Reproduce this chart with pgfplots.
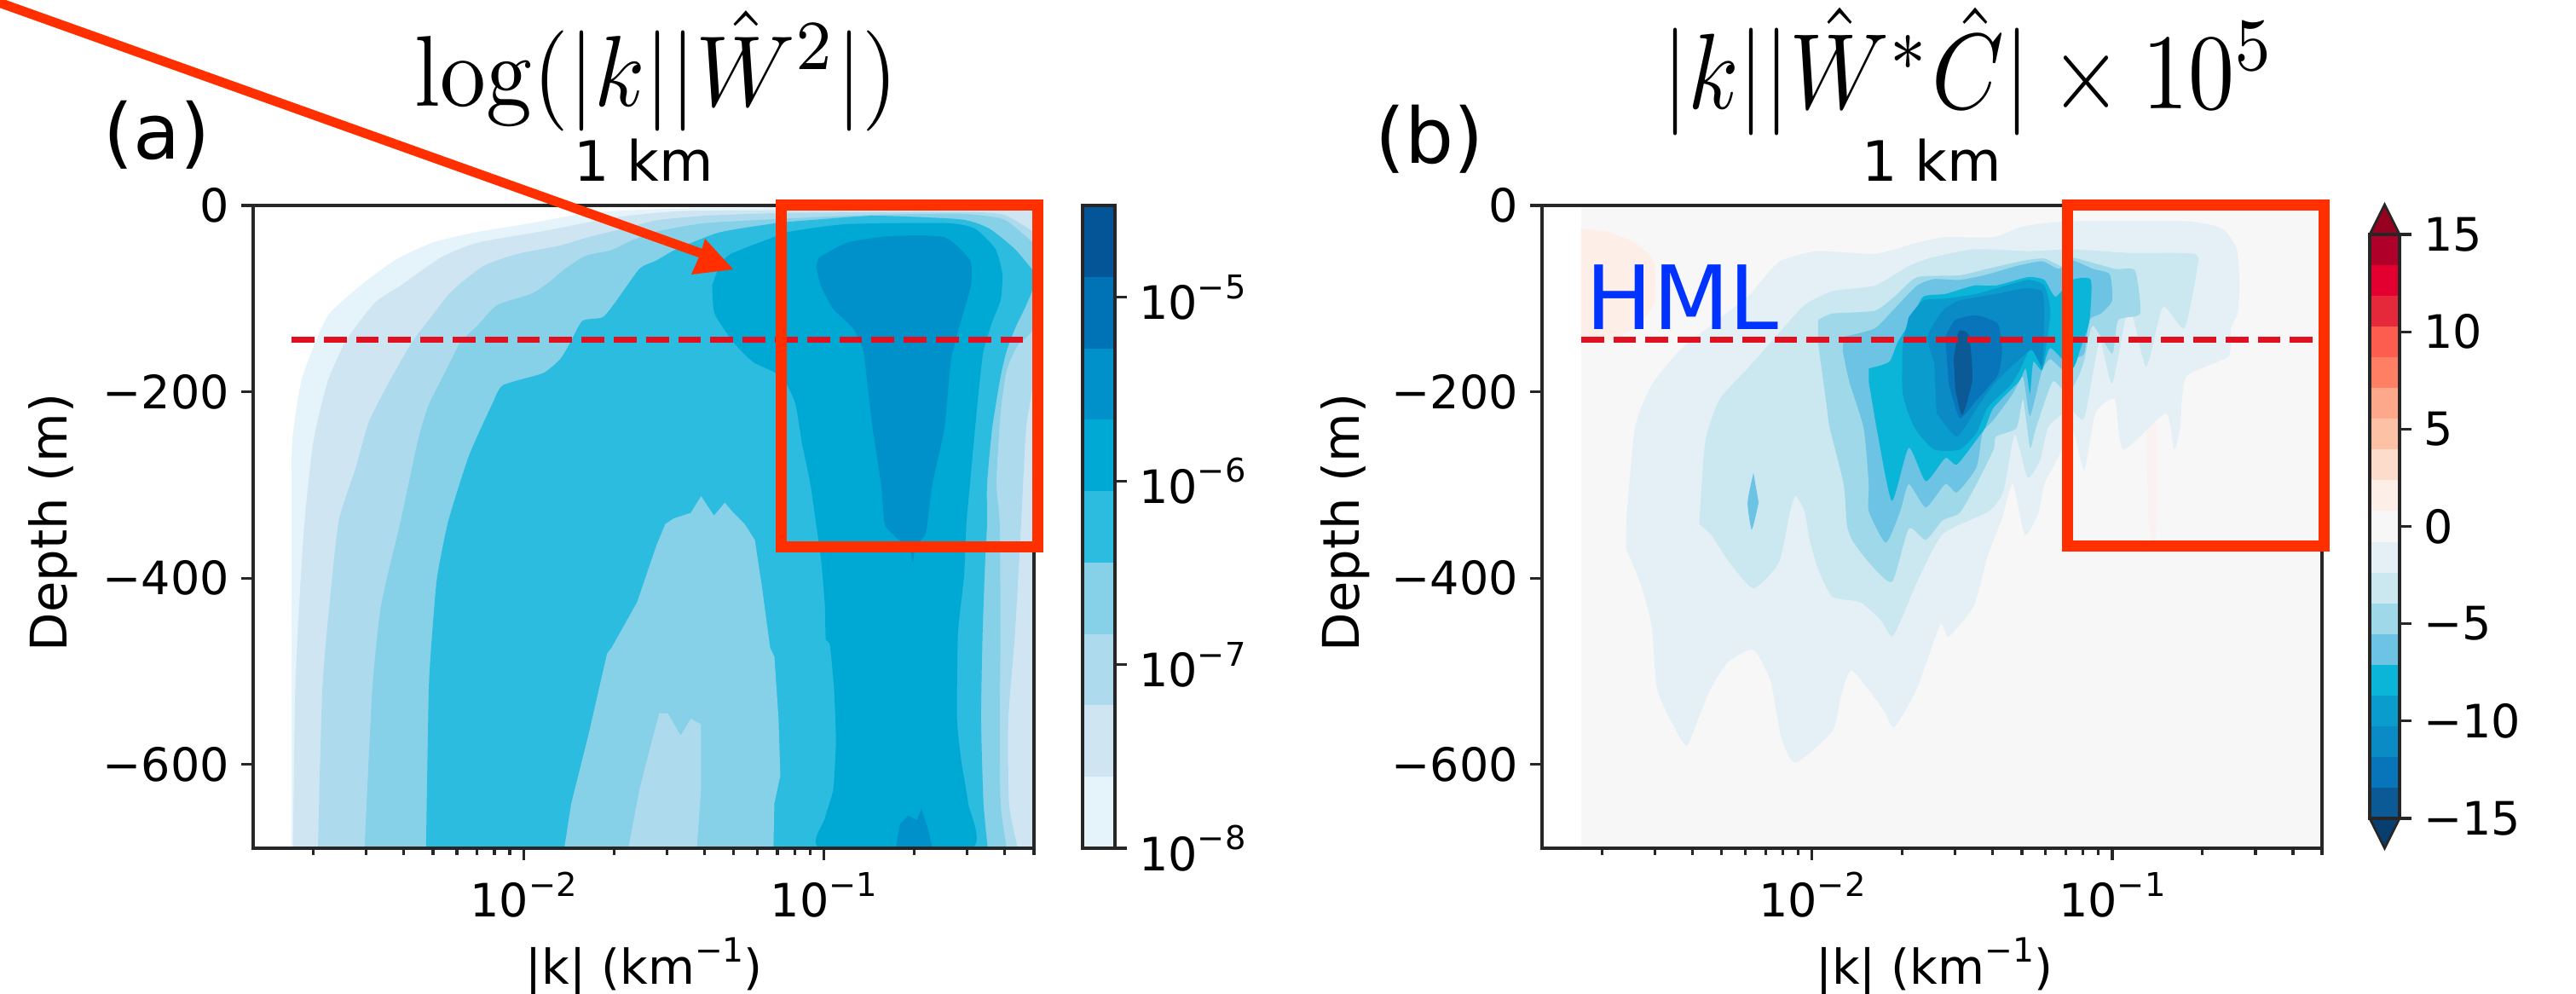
\documentclass[border=0pt]{standalone}
\usepackage[no-math]{fontspec}
\setmainfont{DejaVu Sans}
\usepackage{pgfplots}
\pgfplotsset{compat=1.18}
\newcommand\tk{\fontsize{13.5}{16}\selectfont}
\newcommand\tpow[1]{10\raisebox{.45em}{\fontsize{9.6}{10}\selectfont −#1}}
\definecolor{aa}{HTML}{E5F3FA}\definecolor{ab}{HTML}{CFE6F2}\definecolor{ac}{HTML}{AEDAEE}
\definecolor{ad}{HTML}{86D0E8}\definecolor{ae}{HTML}{2BBCDF}\definecolor{af}{HTML}{00A9D4}
\definecolor{ag}{HTML}{0090CA}\definecolor{ah}{HTML}{0073B7}\definecolor{ai}{HTML}{035597}
\definecolor{sa}{HTML}{0B5A96}\definecolor{sb}{HTML}{0874B9}\definecolor{sc}{HTML}{0A8BC6}
\definecolor{sd}{HTML}{0A9CCC}\definecolor{se}{HTML}{0BB5D8}\definecolor{sf}{HTML}{6CC3E3}
\definecolor{sg}{HTML}{9FD9E9}\definecolor{sh}{HTML}{CBE8F1}\definecolor{si}{HTML}{E4F0F6}
\definecolor{sj}{HTML}{F7F7F7}\definecolor{sk}{HTML}{FDEEE8}\definecolor{sl}{HTML}{FEDCCB}
\definecolor{sm}{HTML}{FDC2A6}\definecolor{sn}{HTML}{FEA88B}\definecolor{so}{HTML}{FF7F64}
\definecolor{sp}{HTML}{FC5D4E}\definecolor{sq}{HTML}{E5283A}\definecolor{sr}{HTML}{E30030}
\definecolor{ss}{HTML}{AE0028}\definecolor{st}{HTML}{98001F}\definecolor{su}{HTML}{083F70}
\definecolor{redbox}{HTML}{FF2F00}\definecolor{hml}{HTML}{E01020}\definecolor{hmlt}{HTML}{0033FF}
\definecolor{faint}{HTML}{FAF2F0}
\pgfplotsset{
  depthpanel/.style={
    scale only axis, width=229pt, height=188.5pt,
    xmin=0.00126, xmax=0.5, ymin=-690, ymax=0,
    axis line style={line width=0.9pt,color=black!85},
    tick style={line width=0.8pt,color=black!85},
    major tick length=3.5pt, minor tick length=2pt, tick align=outside,
    xtick pos=bottom, ytick pos=left,
    xtick={0.01,0.1}, xticklabels={\tpow{2},\tpow{1}},
    minor xtick={0.002,0.003,0.004,0.005,0.006,0.007,0.008,0.009,0.02,0.03,0.04,0.05,0.06,0.07,0.08,0.09,0.2,0.3,0.4,0.5},
    ytick={-600,-400,-200,0}, yticklabels={−600,−400,−200,0},
    tick label style={font=\tk},
    title style={font=\fontsize{16.3}{18}\selectfont, yshift=-2.5pt},
    axis on top,
    every axis plot/.append style={smooth,tension=.35},
  },
  cbarpanel/.style={
    scale only axis, xmin=0, xmax=1, xtick=\empty, axis on top,
    ytick pos=right, yticklabel pos=right,
    axis line style={line width=0.9pt,color=black!85},
    tick style={line width=0.8pt,color=black!85},
    major tick length=3.5pt, minor tick length=0pt, tick align=outside,
    tick label style={font=\tk},
  },
}
\begin{document}
\begin{tikzpicture}
\path[use as bounding box] (0,0) rectangle (755.5pt,291.5pt);
% ---------- panel (a)
\begin{axis}[xmode=log, depthpanel, at={(74.25pt,42.75pt)}, anchor=south west, title={1 km},
  xlabel={|k| (km\raisebox{.45em}{\fontsize{9.8}{10}\selectfont −1})}, ylabel={Depth (m)},
  xlabel style={font=\fontsize{14.1}{16}\selectfont,at={(axis description cs:.501,-.184)},anchor=center},
  ylabel style={font=\fontsize{14.8}{16}\selectfont,at={(axis description cs:-.256,.507)},anchor=center}]
\addplot[fill=aa,draw=none] coordinates {(.00169,-690)(.00169,-342)(.0017,-253)(.00182,-189)(.00203,-147)(.00226,-116)(.00287,-86)(.00372,-59)(.00497,-40)(.00689,-29)(.0106,-19)(.0164,-8)(.0277,-4)(.0649,-2)(.5,-2)(.5,-690)} -- cycle;
\addplot[fill=ab,draw=none] coordinates {(.00171,-690)(.00174,-520)(.0018,-420)(.00187,-338)(.002,-253)(.00223,-189)(.00258,-144)(.00321,-104)(.0039,-86)(.0053,-56)(.00703,-40)(.0119,-27)(.02,-13)(.0337,-6)(.0901,-5)(.5,-4)(.5,-690)} -- cycle;
\addplot[fill=ac,draw=none] coordinates {(.00207,-690)(.00214,-520)(.00226,-429)(.00243,-338)(.00275,-284)(.00306,-232)(.00358,-189)(.00425,-147)(.00484,-123)(.00577,-92)(.00735,-65)(.00955,-52)(.01325,-43)(.01644,-34)(.0214,-25)(.0277,-16)(.0403,-11)(.0755,-8)(.2864,-7)(.397,-10)(.4966,-28)(.5,-28)(.5,-178)(.471,-239)(.453,-342)(.4325,-459)(.411,-551)(.413,-642)(.4416,-690)} -- cycle;
\addplot[fill=ad,draw=none] coordinates {(.00296,-690)(.00314,-520)(.00336,-429)(.0039,-339)(.00445,-253)(.00484,-214)(.00551,-178)(.00617,-147)(.00703,-129)(.00817,-107)(.0106,-95)(.0121,-83)(.01377,-68)(.0161,-54)(.0196,-48)(.0228,-38)(.0277,-28)(.0403,-19)(.0755,-14)(.149,-10)(.2864,-9)(.397,-15)(.4966,-40)(.5,-40)(.5,-129)(.4416,-150)(.4055,-177)(.387,-223)(.375,-299)(.3846,-342)(.387,-459)(.3846,-551)(.387,-642)(.4055,-690)} -- cycle;
\addplot[fill=ae,draw=none] coordinates {(.00474,-690)(.00484,-520)(.00497,-459)(.00516,-399)(.00562,-339)(.00658,-269)(.00785,-214)(.00855,-193)(.01162,-180)(.01325,-165)(.01416,-150)(.0157,-124)(.01837,-120)(.02042,-102)(.02433,-68)(.0277,-59)(.03227,-47)(.04477,-29)(.0693,-19)(.0962,-15)(.149,-11)(.2864,-15)(.3556,-25)(.4325,-47)(.4966,-70)(.5,-70)(.5,-86)(.471,-107)(.4325,-132)(.4055,-156)(.387,-184)(.363,-239)(.349,-299)(.349,-342)(.3444,-377)(.3373,-459)(.3334,-551)(.3396,-642)(.351,-690)} -- cycle;
\addplot[fill=ad,draw=none,sharp plot] coordinates {(.01368,-690)(.01442,-642)(.01644,-569)(.01898,-481)(.01963,-475)(.02388,-426)(.0277,-365)(.02965,-342)(.03162,-336)(.03606,-330)(.039,-312)(.04305,-333)(.04677,-319)(.05,-330)(.05445,-342)(.05888,-359)(.0621,-408)(.06622,-475)(.06839,-484)(.07063,-551)(.07161,-612)(.06839,-642)(.06792,-690)} -- cycle;
\addplot[fill=ac,draw=none,sharp plot] coordinates {(.02234,-690)(.02433,-627)(.0263,-584)(.02831,-545)(.0302,-545)(.03334,-569)(.03606,-551)(.039,-557)(.039,-627)(.03776,-690)} -- cycle;
\addplot[fill=af,draw=none] coordinates {(.04246,-86)(.04325,-116)(.05,-147)(.05808,-168)(.0693,-180)(.0755,-193)(.0805,-214)(.0843,-253)(.0901,-299)(.0942,-342)(.098,-383)(.1007,-429)(.1014,-465)(.1047,-472)(.1081,-520)(.1096,-575)(.1074,-627)(.1007,-658)(.098,-690)(.3083,-690)(.302,-642)(.2864,-596)(.2773,-551)(.2793,-459)(.2924,-399)(.2979,-342)(.3062,-299)(.3184,-239)(.3289,-193)(.3396,-156)(.363,-125)(.387,-102)(.3926,-74)(.3724,-47)(.3184,-25)(.2564,-19)(.1194,-20)(.0774,-28)(.0693,-33)(.049,-52)(.04477,-65)} -- cycle;
\addplot[fill=ag,draw=none] coordinates {(.0942,-65)(.0975,-86)(.1074,-111)(.125,-132)(.1352,-156)(.1396,-193)(.1452,-239)(.1549,-299)(.1592,-342)(.1698,-353)(.1936,-371)(.1972,-383)(.2014,-368)(.2178,-353)(.2208,-342)(.2296,-299)(.2518,-239)(.2649,-166)(.2864,-123)(.3083,-86)(.3062,-59)(.2518,-34)(.1656,-33)(.1194,-40)(.0962,-56)} -- cycle;
\addplot[fill=ag,draw=none,sharp plot] coordinates {(.1734,-690)(.1791,-664)(.191,-655)(.2042,-660)(.2109,-648)(.2223,-670)(.2296,-690)} -- cycle;
\addplot[hml,sharp plot,line width=1.8pt,dash pattern=on 6.7pt off 2.75pt] coordinates {(.00169,-144)(.5,-144)};
\end{axis}
% ---------- colour bar (a)
\begin{axis}[ymode=log, cbarpanel, at={(317.5pt,42.75pt)}, anchor=south west, width=9.5pt, height=188.5pt,
  ymin=1e-8, ymax=3.162e-5, ytick={1e-8,1e-7,1e-6,1e-5},
  yticklabels={\tpow{8},\tpow{7},\tpow{6},\tpow{5}}]
\addplot[fill=aa,draw=none] coordinates {(0,1e-8)(1,1e-8)(1,2.448e-8)(0,2.448e-8)} -- cycle;
\addplot[fill=ab,draw=none] coordinates {(0,2.448e-8)(1,2.448e-8)(1,5.995e-8)(0,5.995e-8)} -- cycle;
\addplot[fill=ac,draw=none] coordinates {(0,5.995e-8)(1,5.995e-8)(1,1.468e-7)(0,1.468e-7)} -- cycle;
\addplot[fill=ad,draw=none] coordinates {(0,1.468e-7)(1,1.468e-7)(1,3.594e-7)(0,3.594e-7)} -- cycle;
\addplot[fill=ae,draw=none] coordinates {(0,3.594e-7)(1,3.594e-7)(1,8.80e-7)(0,8.80e-7)} -- cycle;
\addplot[fill=af,draw=none] coordinates {(0,8.80e-7)(1,8.80e-7)(1,2.154e-6)(0,2.154e-6)} -- cycle;
\addplot[fill=ag,draw=none] coordinates {(0,2.154e-6)(1,2.154e-6)(1,5.275e-6)(0,5.275e-6)} -- cycle;
\addplot[fill=ah,draw=none] coordinates {(0,5.275e-6)(1,5.275e-6)(1,1.292e-5)(0,1.292e-5)} -- cycle;
\addplot[fill=ai,draw=none] coordinates {(0,1.292e-5)(1,1.292e-5)(1,3.162e-5)(0,3.162e-5)} -- cycle;
\end{axis}
% ---------- panel (b)
\begin{axis}[xmode=log, depthpanel, at={(452.25pt,42.75pt)}, anchor=south west, width=228.75pt, title={1 km},
  xlabel={|k| (km\raisebox{.45em}{\fontsize{9.8}{10}\selectfont −1})}, ylabel={Depth (m)},
  xlabel style={font=\fontsize{14.1}{16}\selectfont,at={(axis description cs:.503,-.184)},anchor=center},
  ylabel style={font=\fontsize{14.8}{16}\selectfont,at={(axis description cs:-.252,.507)},anchor=center}]
\addplot[fill=sj,draw=none,sharp plot] coordinates {(.0017,-690)(.0017,0)(.5,0)(.5,-690)} -- cycle;
\addplot[fill=sk,draw=none] coordinates {(.0017,-25)(.00206,-28)(.00257,-40)(.00298,-61)(.00298,-102)(.00274,-123)(.0022,-144)(.0017,-145)} -- cycle;
\addplot[fill=faint,draw=none] coordinates {(.1297,-237)(.1413,-237)(.1413,-330)(.1366,-370)(.132,-330)} -- cycle;
\addplot[fill=si,draw=none] coordinates {(.0024,-342)(.00257,-239)(.00292,-193)(.0037,-153)(.0061,-98)(.00681,-80)(.00791,-59)(.01047,-49)(.01618,-52)(.02239,-40)(.0278,-34)(.04027,-34)(.05117,-22)(.07362,-17)(.1762,-17)(.2328,-25)(.26,-47)(.2655,-86)(.2618,-116)(.2483,-132)(.2438,-162)(.1762,-184)(.1683,-239)(.1607,-262)(.1507,-223)(.1089,-262)(.1019,-208)(.0879,-223)(.0807,-284)(.07362,-239)(.06637,-269)(.05943,-299)(.05675,-330)(.05117,-354)(.04667,-299)(.04295,-336)(.03846,-376)(.03467,-429)(.02851,-463)(.02673,-450)(.02239,-518)(.0188,-560)(.01726,-541)(.01358,-499)(.01247,-527)(.01169,-564)(.00883,-598)(.00791,-572)(.00728,-511)(.00638,-477)(.00525,-490)(.00461,-518)(.00421,-548)(.00382,-580)(.0034,-554)(.00304,-518)(.00292,-450)(.00267,-404)(.0024,-368)} -- cycle;
\addplot[fill=sh,draw=none] coordinates {(.00421,-342)(.00441,-253)(.00492,-208)(.0061,-175)(.00757,-141)(.00944,-107)(.01169,-92)(.01618,-86)(.021,-65)(.025,-56)(.03467,-47)(.05321,-49)(.07362,-47)(.1138,-51)(.188,-52)(.1914,-70)(.1738,-132)(.1476,-109)(.1297,-173)(.1138,-109)(.1,-191)(.0908,-146)(.0807,-228)(.07228,-219)(.06138,-237)(.05754,-273)(.05224,-292)(.04732,-246)(.04345,-306)(.0389,-328)(.02723,-353)(.02239,-404)(.02004,-441)(.01845,-463)(.01694,-445)(.01449,-426)(.01169,-420)(.01047,-390)(.00982,-359)(.00944,-328)(.00883,-312)(.00845,-328)(.00776,-383)(.00638,-411)(.00525,-381)(.00461,-353)} -- cycle;
\addplot[fill=sf,draw=none] coordinates {(.00638,-287)(.0061,-319)(.0063,-348)(.00664,-319)} -- cycle;
\addplot[fill=sg,draw=none] coordinates {(.01047,-123)(.01169,-116)(.01618,-113)(.0188,-98)(.02239,-77)(.03105,-75)(.03846,-68)(.05117,-59)(.05943,-57)(.06776,-65)(.07362,-56)(.1019,-68)(.1191,-70)(.1239,-116)(.1047,-123)(.1,-159)(.0861,-129)(.0807,-166)(.0771,-184)(.0708,-203)(.06339,-189)(.05571,-239)(.05321,-260)(.05047,-208)(.04797,-239)(.04102,-248)(.04027,-262)(.03532,-299)(.03105,-330)(.02723,-338)(.02393,-359)(.021,-347)(.01845,-404)(.01545,-383)(.01358,-359)(.01306,-342)(.01274,-299)(.01146,-239)(.01117,-214)(.01047,-147)} -- cycle;
\addplot[fill=sf,draw=none] coordinates {(.01274,-141)(.01618,-132)(.0188,-111)(.02239,-86)(.02553,-79)(.03105,-80)(.03846,-74)(.04797,-65)(.05834,-60)(.06637,-68)(.07362,-59)(.0861,-68)(.0982,-74)(.1,-102)(.0918,-116)(.0839,-123)(.0807,-159)(.07362,-165)(.06902,-177)(.06223,-165)(.05834,-177)(.05321,-226)(.05047,-184)(.04667,-202)(.04027,-230)(.03698,-244)(.03532,-281)(.03041,-308)(.0278,-299)(.02393,-324)(.021,-299)(.01968,-328)(.01762,-362)(.01545,-328)(.01545,-299)(.01486,-239)(.0133,-189)(.01265,-156)} -- cycle;
\addplot[fill=se,draw=none] coordinates {(.01545,-175)(.01807,-168)(.01928,-147)(.02143,-123)(.02344,-98)(.0278,-95)(.03467,-86)(.04102,-86)(.05224,-77)(.05943,-80)(.06471,-98)(.07362,-80)(.0849,-80)(.0839,-125)(.07852,-153)(.07362,-175)(.06223,-153)(.05834,-177)(.05458,-168)(.05321,-202)(.05152,-175)(.04887,-189)(.04027,-217)(.03767,-239)(.03597,-248)(.03041,-278)(.0278,-271)(.02393,-296)(.021,-260)(.01845,-317)(.01652,-244)(.01545,-189)} -- cycle;
\addplot[fill=sd,draw=none] coordinates {(.02004,-147)(.02004,-202)(.02198,-239)(.02553,-262)(.03105,-262)(.03532,-244)(.03846,-217)(.04581,-193)(.04955,-175)(.05458,-147)(.05834,-175)(.06223,-116)(.05943,-86)(.05224,-80)(.04102,-89)(.03532,-95)(.0278,-100)(.02344,-102)(.021,-120)} -- cycle;
\addplot[fill=sc,draw=none] coordinates {(.02553,-168)(.02421,-141)(.02723,-113)(.03105,-102)(.04102,-95)(.05117,-89)(.05834,-92)(.05943,-116)(.05834,-171)(.05395,-155)(.04797,-168)(.04102,-189)(.03597,-214)(.03041,-248)(.026,-223)} -- cycle;
\addplot[fill=sb,draw=none] coordinates {(.0278,-141)(.02999,-123)(.03532,-118)(.04159,-127)(.04295,-155)(.04159,-182)(.03532,-209)(.03105,-228)(.02851,-191)} -- cycle;
\addplot[fill=sa,draw=none] coordinates {(.02965,-165)(.03083,-135)(.03334,-140)(.0342,-187)(.03162,-225)(.02999,-196)} -- cycle;
\addplot[hml,sharp plot,line width=1.8pt,dash pattern=on 6.7pt off 2.75pt] coordinates {(.0017,-144)(.5,-144)};
\end{axis}
% ---------- colour bar (b)
\begin{axis}[cbarpanel, at={(695pt,51.5pt)}, anchor=south west, width=8.75pt, height=171.25pt,
  ymin=-15, ymax=15, clip=false, ytick={-15,-10,-5,0,5,10,15},
  yticklabels={−15,−10,−5,0,5,10,15}]
\addplot[fill=su,draw=black!85,line width=.7pt] coordinates {(0,-15)(.5,-16.53)(1,-15)} -- cycle;
\addplot[fill=st,draw=black!85,line width=.7pt] coordinates {(0,15)(.5,16.53)(1,15)} -- cycle;
\addplot[fill=sa,draw=none] coordinates {(0,-15)(1,-15)(1,-13.421)(0,-13.421)} -- cycle;
\addplot[fill=sb,draw=none] coordinates {(0,-13.421)(1,-13.421)(1,-11.842)(0,-11.842)} -- cycle;
\addplot[fill=sc,draw=none] coordinates {(0,-11.842)(1,-11.842)(1,-10.263)(0,-10.263)} -- cycle;
\addplot[fill=sd,draw=none] coordinates {(0,-10.263)(1,-10.263)(1,-8.684)(0,-8.684)} -- cycle;
\addplot[fill=se,draw=none] coordinates {(0,-8.684)(1,-8.684)(1,-7.105)(0,-7.105)} -- cycle;
\addplot[fill=sf,draw=none] coordinates {(0,-7.105)(1,-7.105)(1,-5.526)(0,-5.526)} -- cycle;
\addplot[fill=sg,draw=none] coordinates {(0,-5.526)(1,-5.526)(1,-3.947)(0,-3.947)} -- cycle;
\addplot[fill=sh,draw=none] coordinates {(0,-3.947)(1,-3.947)(1,-2.368)(0,-2.368)} -- cycle;
\addplot[fill=si,draw=none] coordinates {(0,-2.368)(1,-2.368)(1,-0.789)(0,-0.789)} -- cycle;
\addplot[fill=sj,draw=none] coordinates {(0,-0.789)(1,-0.789)(1,0.789)(0,0.789)} -- cycle;
\addplot[fill=sk,draw=none] coordinates {(0,0.789)(1,0.789)(1,2.368)(0,2.368)} -- cycle;
\addplot[fill=sl,draw=none] coordinates {(0,2.368)(1,2.368)(1,3.947)(0,3.947)} -- cycle;
\addplot[fill=sm,draw=none] coordinates {(0,3.947)(1,3.947)(1,5.526)(0,5.526)} -- cycle;
\addplot[fill=sn,draw=none] coordinates {(0,5.526)(1,5.526)(1,7.105)(0,7.105)} -- cycle;
\addplot[fill=so,draw=none] coordinates {(0,7.105)(1,7.105)(1,8.684)(0,8.684)} -- cycle;
\addplot[fill=sp,draw=none] coordinates {(0,8.684)(1,8.684)(1,10.263)(0,10.263)} -- cycle;
\addplot[fill=sq,draw=none] coordinates {(0,10.263)(1,10.263)(1,11.842)(0,11.842)} -- cycle;
\addplot[fill=sr,draw=none] coordinates {(0,11.842)(1,11.842)(1,13.421)(0,13.421)} -- cycle;
\addplot[fill=ss,draw=none] coordinates {(0,13.421)(1,13.421)(1,15)(0,15)} -- cycle;
\end{axis}
% ---------- annotations
\draw[redbox,line width=3.25pt] (229.125pt,231.25pt) rectangle (304.375pt,131.125pt);
\draw[redbox,line width=3.25pt] (606.375pt,231.25pt) rectangle (681.625pt,131.25pt);
\draw[redbox,line width=2.75pt] (-1pt,291pt) -- (205.5pt,217.25pt);
\fill[redbox] (215pt,212.5pt) -- (206.75pt,221.5pt) -- (205.5pt,217.25pt) -- (202.75pt,211pt) -- cycle;
\node[anchor=center,font=\fontsize{22.5}{24}\selectfont] at (46pt,252pt) {(a)};
\node[anchor=center,font=\fontsize{22.5}{24}\selectfont] at (419.25pt,250.75pt) {(b)};
\node[anchor=base west,inner sep=0pt,text=hmlt,font=\fontsize{26}{28}\selectfont] at (465pt,194.75pt) {HML};
\node[anchor=center,xscale=2.69,yscale=2.95] at (192.5pt,270.6pt) {$\log(|k||\hat{W}^2|)$};
\node[anchor=center,xscale=2.7,yscale=3.15] at (577.5pt,270.5pt) {$|k||\hat{W}^{*}\hat{C}|\times 10^5$};
\end{tikzpicture}
\end{document}
